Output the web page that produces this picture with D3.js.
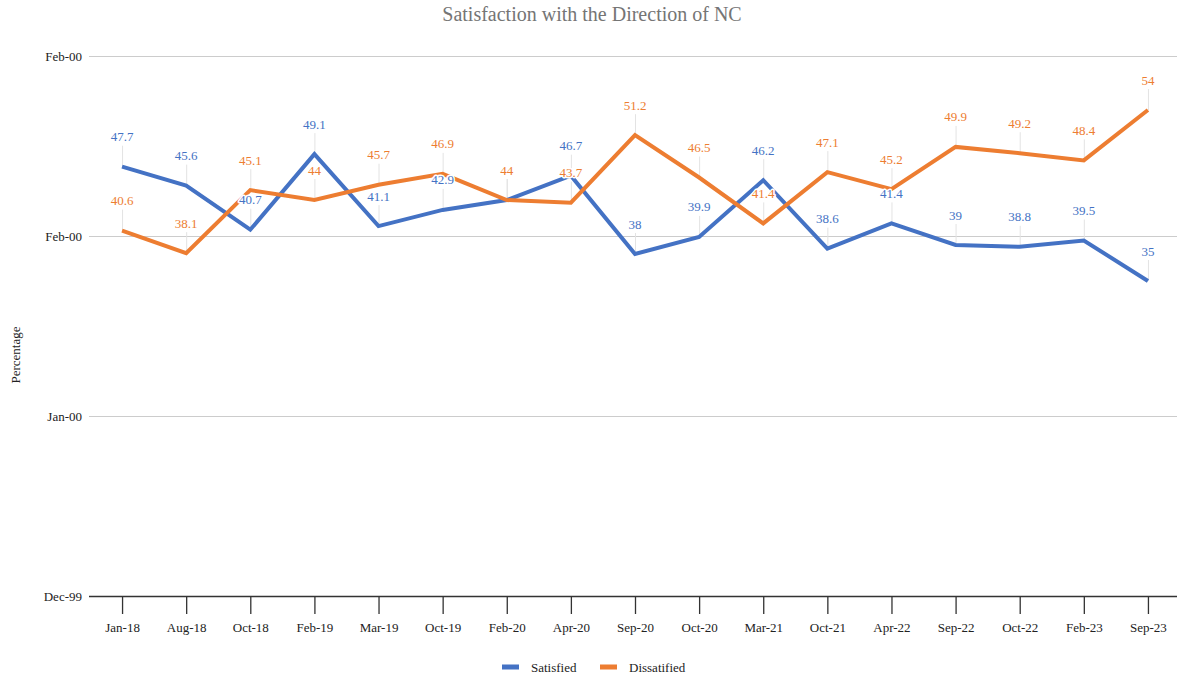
<!DOCTYPE html>
<html>
<head>
<meta charset="utf-8">
<script src="https://cdn.jsdelivr.net/npm/d3@7"></script>
<style>
  html, body { margin: 0; padding: 0; background: #fff; }
  svg { display: block; }
  text { font-family: "Liberation Serif", "Times New Roman", serif; }
</style>
</head>
<body>
<svg id="chart" width="1177" height="676"></svg>
<script>
const categories = ["Jan-18","Aug-18","Oct-18","Feb-19","Mar-19","Oct-19","Feb-20","Apr-20","Sep-20","Oct-20","Mar-21","Oct-21","Apr-22","Sep-22","Oct-22","Feb-23","Sep-23"];
const satisfied = [47.7,45.6,40.7,49.1,41.1,42.9,44,46.7,38,39.9,46.2,38.6,41.4,39,38.8,39.5,35];
const dissatisfied = [40.6,38.1,45.1,44,45.7,46.9,44,43.7,51.2,46.5,41.4,47.1,45.2,49.9,49.2,48.4,54];
const yTicks = [0,20,40,60];
const yTickLabels = ["Dec-99","Jan-00","Feb-00","Feb-00"];
const seriesNames = ["Satisfied","Dissatified"];
const colors = ["#4472c4","#ed7d31"];

const W = 1177, H = 676;
const svg = d3.select("#chart");

const x = d3.scalePoint().domain(categories).range([90, 1180]).padding(0.5);
const y = d3.scaleLinear().domain([0, 60]).range([596, 56]);

// title
svg.append("text")
  .attr("x", 592).attr("y", 14).attr("dy", "0.35em")
  .attr("text-anchor", "middle")
  .attr("font-size", 20).attr("fill", "#757575")
  .text("Satisfaction with the Direction of NC");

// gridlines
svg.append("g").selectAll("line").data(yTicks.filter(d => d !== 0)).join("line")
  .attr("x1", 89).attr("x2", W)
  .attr("y1", d => y(d) + 0.5).attr("y2", d => y(d) + 0.5)
  .attr("stroke", "#cccccc").attr("stroke-width", 1);

// y labels
svg.append("g").selectAll("text").data(yTicks).join("text")
  .attr("x", 82).attr("y", d => y(d)).attr("dy", "0.35em")
  .attr("text-anchor", "end").attr("font-size", 13).attr("fill", "#222")
  .text((d, i) => yTickLabels[i]);

// y axis title
svg.append("text")
  .attr("transform", "translate(15,355) rotate(-90)")
  .attr("text-anchor", "middle").attr("dy", "0.35em")
  .attr("font-size", 13).attr("fill", "#222")
  .text("Percentage");

// x axis
const xAxis = svg.append("g")
  .attr("transform", `translate(0,${y(0)})`)
  .call(d3.axisBottom(x).tickSize(18).tickPadding(9).tickSizeOuter(0));
xAxis.select(".domain").remove();
xAxis.selectAll(".tick line").attr("stroke", "#333").attr("stroke-width", 1.3);
xAxis.selectAll(".tick text").attr("font-size", 13).attr("fill", "#222")
  .attr("font-family", "Liberation Serif, Times New Roman, serif");
svg.append("line")
  .attr("x1", 89).attr("x2", W).attr("y1", y(0) + 0.5).attr("y2", y(0) + 0.5)
  .attr("stroke", "#333").attr("stroke-width", 1.3);

const series = [satisfied, dissatisfied];
const labelOffset = 30;

// stems
const stems = svg.append("g");
series.forEach((vals, s) => {
  stems.selectAll(null).data(vals).join("line")
    .attr("x1", (d, i) => x(categories[i]) + 0.5)
    .attr("x2", (d, i) => x(categories[i]) + 0.5)
    .attr("y1", d => y(d))
    .attr("y2", d => y(d) - labelOffset + 9)
    .attr("stroke", "#e3e3e3").attr("stroke-width", 1);
});

// lines
const line = d3.line().x((d, i) => x(categories[i])).y(d => y(d));
series.forEach((vals, s) => {
  svg.append("path").datum(vals)
    .attr("d", line).attr("fill", "none")
    .attr("stroke", colors[s]).attr("stroke-width", 4)
    .attr("stroke-linejoin", "miter").attr("stroke-linecap", "butt");
});

// labels
series.forEach((vals, s) => {
  svg.append("g").selectAll("text").data(vals).join("text")
    .attr("x", (d, i) => x(categories[i]))
    .attr("y", d => y(d) - labelOffset)
    .attr("dy", "0.35em")
    .attr("text-anchor", "middle")
    .attr("font-size", 13)
    .attr("fill", colors[s])
    .attr("stroke", "#fff").attr("stroke-width", 3)
    .attr("paint-order", "stroke").attr("stroke-linejoin", "round")
    .text(d => d);
});

// legend
const legendX = [502, 600];
series.forEach((vals, s) => {
  const g = svg.append("g").attr("transform", `translate(${legendX[s]},667)`);
  g.append("rect").attr("x", 0).attr("y", -2.5).attr("width", 17).attr("height", 5)
    .attr("fill", colors[s]);
  g.append("text").attr("x", 29).attr("y", 0).attr("dy", "0.35em")
    .attr("font-size", 13).attr("fill", "#222").text(seriesNames[s]);
});
</script>
</body>
</html>
